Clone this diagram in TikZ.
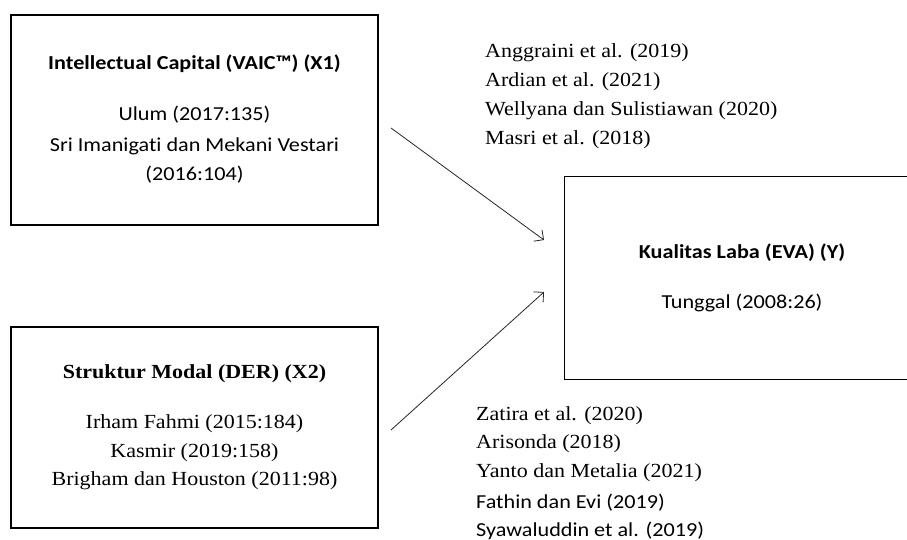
\documentclass[tikz,border=0pt]{standalone}
\usepackage{fontspec}
\setmainfont{Liberation Serif}[FakeStretch=1.1]
\newfontfamily\calfont{Carlito}[FakeStretch=1.12, Ligatures=NoCommon]
\usetikzlibrary{arrows.meta}

\begin{document}
\begin{tikzpicture}[x=1pt, y=-1pt]
        % ================= styles =================
        \tikzset{
            % variable box
            varbox/.style={draw=black, line width=1.1pt, fill=white, inner sep=0pt},
            % box outline drawn by hand (open on the right)
            box_edge/.style={draw=black, line width=1.1pt},
            % serif text line
            txt/.style={anchor=base, inner sep=0pt, font=\fontsize{20}{29}\selectfont},
            % sans (Calibri-like) text line
            ctxt/.style={anchor=base, inner sep=0pt, font=\fontsize{19.8}{29}\selectfont\calfont},
            % reference lists
            reftxt/.style={txt, anchor=base west},
            refctxt/.style={ctxt, anchor=base west},
            % arrows
            rel_edge/.style={line width=0.8pt, black!85, -{Straight Barb[length=7pt, width=14pt]}}
        }

        % ================= frame =================
        \useasboundingbox (0,0) rectangle (907,540);
        \clip (0,0) rectangle (907,540);

        % ================= boxes =================
        \node[varbox, minimum width=367pt, minimum height=210pt] (x1box) at (194.5,120) {};
        \node[varbox, minimum width=367pt, minimum height=201pt] (x2box) at (194.5,427.5) {};
        % right side runs past the frame
        \node[inner sep=0pt, minimum width=380pt, minimum height=202pt] (ybox) at (755,278) {};
        \draw[box_edge] (ybox.north east) -- (ybox.north west) -- (ybox.south west) -- (ybox.south east);

        % ================= box texts =================
        % X1
        \node[ctxt] (x1title) at (194.5,70) {\bfseries Intellectual Capital (VAIC™) (X1)};
        \node[ctxt] (x1ref1) at (194.5,121) {Ulum (2017:135)};
        \node[ctxt] (x1ref2) at (194.5,152) {Sri Imanigati dan Mekani Vestari};
        \node[ctxt] (x1ref3) at (194.5,181) {(2016:104)};
        % X2
        \node[txt] (x2title) at (194.5,378) {\bfseries Struktur Modal (DER) (X2)};
        \node[txt] (x2ref1) at (194.5,428) {Irham Fahmi (2015:184)};
        \node[txt] (x2ref2) at (194.5,457) {Kasmir (2019:158)};
        \node[txt] (x2ref3) at (194.5,485) {Brigham dan Houston (2011:98)};
        % Y
        \node[ctxt] (ytitle) at (742,258) {\bfseries Kualitas Laba (EVA) (Y)};
        \node[ctxt] (yref1) at (742,308) {Tunggal (2008:26)};

        % ================= reference lists =================
        \node[reftxt] (r1a) at (485,58) {Anggraini et al. (2019)};
        \node[reftxt] (r1b) at (485,87) {Ardian et al. (2021)};
        \node[reftxt] (r1c) at (485,116) {Wellyana dan Sulistiawan (2020)};
        \node[reftxt] (r1d) at (485,145) {Masri et al. (2018)};

        \node[reftxt] (r2a) at (476,420) {Zatira et al. (2020)};
        \node[reftxt] (r2b) at (476,448) {Arisonda (2018)};
        \node[reftxt] (r2c) at (476,477) {Yanto dan Metalia (2021)};
        \node[refctxt] (r2d) at (476,508) {Fathin dan Evi (2019)};
        \node[refctxt] (r2e) at (476,536) {Syawaluddin et al. (2019)};

        % ================= arrows =================
        \coordinate (x1_out) at (391,128);
        \coordinate (x2_out) at (391,430);
        \coordinate (y_in1) at (544,240);
        \coordinate (y_in2) at (544,292);
        \draw[rel_edge] (x1_out) -- (y_in1);
        \draw[rel_edge] (x2_out) -- (y_in2);

    \end{tikzpicture}
\end{document}
